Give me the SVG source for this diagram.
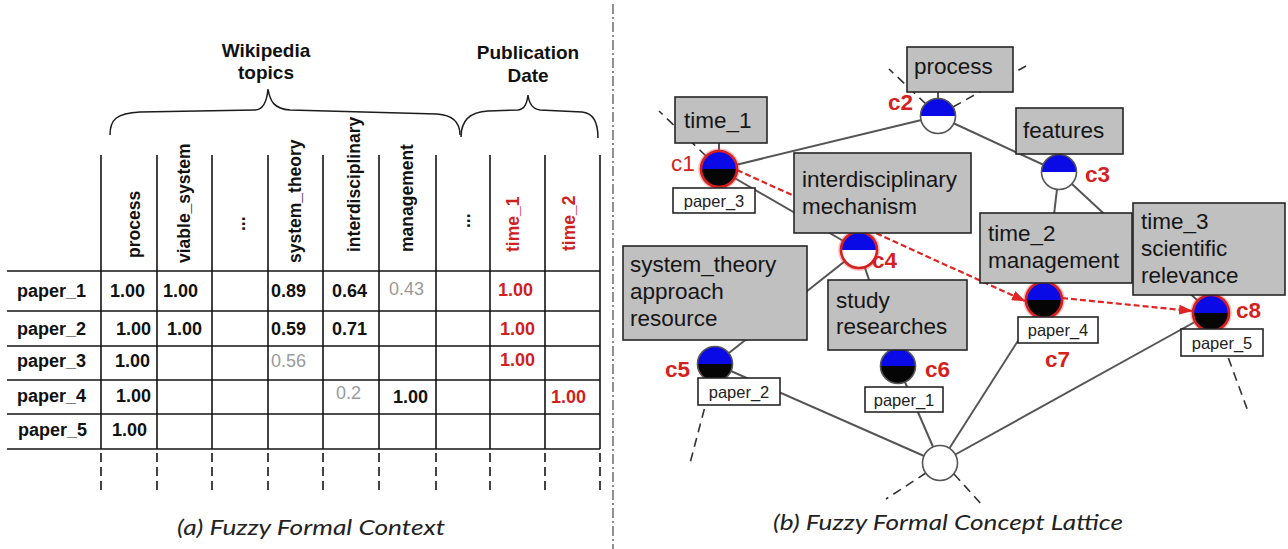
<svg xmlns="http://www.w3.org/2000/svg" xmlns:xlink="http://www.w3.org/1999/xlink" width="1288" height="549" viewBox="0 0 1288 549">
  <style>
    .grid { stroke: #141414; stroke-width: 1.6; fill: none; }
    .gridx { stroke: #141414; stroke-width: 1.6; fill: none; stroke-dasharray: 9 5; }
    .brace { stroke: #1c1c1c; stroke-width: 1.5; fill: none; }
    .hd { font-family: "Liberation Sans", Arial, sans-serif; font-weight: bold; font-size: 19px; fill: #111; text-anchor: middle; }
    .col { font-family: "Liberation Sans", Arial, sans-serif; font-weight: bold; font-size: 17.5px; fill: #111; }
    .cell { font-family: "Liberation Sans", Arial, sans-serif; font-weight: bold; font-size: 18px; fill: #111; }
    .low { font-weight: normal; fill: #9a9a9a; }
    .red { fill: #cf1f1f; }
    .cap { font-family: Lato, "Open Sans", sans-serif; font-style: italic; font-size: 22px; fill: #222; }
    .edge { stroke: #555; stroke-width: 2; fill: none; }
    .more { stroke: #333; stroke-width: 1.6; fill: none; stroke-dasharray: 9 6; }
    .order { stroke: #e02424; stroke-width: 2.2; fill: none; stroke-dasharray: 6 3; }
    .attr { fill: #c0c0c0; stroke: #262626; stroke-width: 1.6; }
    .attr-t { font-family: "Liberation Sans", Arial, sans-serif; font-size: 22.5px; fill: #161616; }
    .obj { fill: #fff; stroke: #262626; stroke-width: 1.6; }
    .obj-t { font-family: "Liberation Sans", Arial, sans-serif; font-size: 16.5px; fill: #222; text-anchor: middle; }
    .cid { font-family: "Liberation Sans", Arial, sans-serif; font-weight: bold; font-size: 22.5px; fill: #d61f1f; }
    .blue { fill: #0a0ae6; }
    .black { fill: #050505; }
    .white { fill: #ffffff; }
    .ring { fill: none; stroke: #555; stroke-width: 1.6; }
    .ring-red { fill: none; stroke: #d42020; stroke-width: 2.6; }
    .halo { fill: none; stroke: #e04040; stroke-width: 2.5; stroke-opacity: 0.35; }
  </style>
  <defs>
    <path id="top" d="M-17.5,0 A17.5,17.5 0 0 1 17.5,0 Z"/>
    <path id="bot" d="M-17.5,0 A17.5,17.5 0 0 0 17.5,0 Z"/>
    <marker id="arrow" viewBox="0 0 14 10" refX="13" refY="5" markerWidth="14" markerHeight="10" markerUnits="userSpaceOnUse" orient="auto">
      <path d="M0,0 L14,5 L0,10 Z" fill="#e02424"/>
    </marker>
  </defs>

  <rect width="1288" height="549" fill="#ffffff"/>

  <!-- (a) fuzzy formal context table -->
  <g id="context-table">
    <path class="brace" d="M110,135 C110,120 116,113 140,112 L255,110 C264,110 267,100 268,89 C270,101 274,109 290,110 L437,114 C452,115 460,122 460,135"/>
    <path class="brace" d="M461,137 C461,122 468,112 488,111 L518,110 C525,109 527,103 528,95 C529,103 532,109 540,110 L582,112 C594,113 598,124 598,138"/>
    <text class="hd" x="266" y="57">Wikipedia</text>
    <text class="hd" x="266" y="79">topics</text>
    <text class="hd" x="528" y="59">Publication</text>
    <text class="hd" x="528" y="82">Date</text>

    <!-- column rules -->
    <path class="grid" d="M101,155 V449 M157,155 V449 M212,155 V449 M268,155 V449 M323,155 V449 M379,155 V449 M436,155 V449 M490,155 V449 M545,155 V449 M600,155 V449"/>
    <!-- row rules -->
    <path class="grid" d="M7,271 H600 M7,311 H600 M7,346 H600 M7,380 H600 M7,414 H600 M7,449 H600"/>
    <!-- open-ended columns -->
    <path class="gridx" d="M101,453 V490 M157,453 V490 M212,453 V490 M268,453 V490 M323,453 V490 M379,453 V490 M436,453 V490 M490,453 V490 M545,453 V490 M600,453 V490"/>

    <!-- attribute headers -->
    <text class="col" transform="translate(140,258) rotate(-90)">process</text>
    <text class="col" transform="translate(190,263) rotate(-90)">viable_system</text>
    <text class="col" transform="translate(245,231) rotate(-90)">...</text>
    <text class="col" transform="translate(301,263) rotate(-90)">system_theory</text>
    <text class="col" transform="translate(360,252) rotate(-90)">interdisciplinary</text>
    <text class="col" transform="translate(413,252) rotate(-90)">management</text>
    <text class="col" transform="translate(470,228) rotate(-90)">...</text>
    <text class="col red" transform="translate(519,252) rotate(-90)">time_1</text>
    <text class="col red" transform="translate(575,251) rotate(-90)">time_2</text>

    <!-- objects -->
    <text class="cell" x="17" y="297">paper_1</text>
    <text class="cell" x="17" y="335">paper_2</text>
    <text class="cell" x="17" y="367">paper_3</text>
    <text class="cell" x="17" y="402">paper_4</text>
    <text class="cell" x="18" y="436">paper_5</text>

    <!-- membership degrees -->
    <text class="cell" x="110" y="297">1.00</text>
    <text class="cell" x="163" y="297">1.00</text>
    <text class="cell" x="271" y="297">0.89</text>
    <text class="cell" x="332" y="297">0.64</text>
    <text class="cell low" x="389" y="295">0.43</text>
    <text class="cell red" x="498" y="296">1.00</text>

    <text class="cell" x="116" y="335">1.00</text>
    <text class="cell" x="167" y="335">1.00</text>
    <text class="cell" x="271" y="335">0.59</text>
    <text class="cell" x="332" y="335">0.71</text>
    <text class="cell red" x="500" y="335">1.00</text>

    <text class="cell" x="115" y="367">1.00</text>
    <text class="cell low" x="271" y="367">0.56</text>
    <text class="cell red" x="500" y="366">1.00</text>

    <text class="cell" x="116" y="402">1.00</text>
    <text class="cell low" x="336" y="399">0.2</text>
    <text class="cell" x="393" y="403">1.00</text>
    <text class="cell red" x="551" y="403">1.00</text>

    <text class="cell" x="112" y="436">1.00</text>

    <text class="cap" x="177" y="535" textLength="268" lengthAdjust="spacingAndGlyphs">(a) Fuzzy Formal Context</text>
  </g>

  <!-- separator between the two panels -->
  <line x1="613" y1="4" x2="613" y2="549" stroke="#555" stroke-width="1.3" stroke-dasharray="10 3 2 3"/>

  <!-- (b) lattice: edges -->
  <g id="connectors">
    <line class="edge" x1="719" y1="169" x2="938" y2="116"/>
    <line class="edge" x1="719" y1="169" x2="859" y2="250"/>
    <line class="edge" x1="938" y1="116" x2="1059" y2="172"/>
    <line class="edge" x1="1059" y1="172" x2="1044" y2="300"/>
    <line class="edge" x1="1059" y1="172" x2="1211" y2="313"/>
    <line class="edge" x1="859" y1="250" x2="715" y2="364"/>
    <line class="edge" x1="859" y1="250" x2="898" y2="366"/>
    <line class="edge" x1="715" y1="364" x2="940" y2="463"/>
    <line class="edge" x1="898" y1="366" x2="940" y2="463"/>
    <line class="edge" x1="1044" y1="300" x2="940" y2="463"/>
    <line class="edge" x1="1211" y1="313" x2="940" y2="463"/>
    <line class="edge" x1="719" y1="143" x2="719" y2="152"/>
    <line class="edge" x1="938" y1="92" x2="938" y2="99"/>

    <!-- lattice continues beyond the excerpt -->
    <line class="more" x1="706" y1="156" x2="659" y2="111"/>
    <line class="more" x1="926" y1="104" x2="889" y2="69"/>
    <line class="more" x1="953" y1="107" x2="1026" y2="66"/>
    <line class="more" x1="712" y1="380" x2="689" y2="467"/>
    <line class="more" x1="1218" y1="330" x2="1249" y2="414"/>
    <line class="more" x1="926" y1="473" x2="886" y2="499"/>
    <line class="more" x1="954" y1="474" x2="983" y2="506"/>

    <!-- temporal order -->
    <line class="order" x1="737" y1="170" x2="1025" y2="301" marker-end="url(#arrow)"/>
    <line class="order" x1="1062" y1="298" x2="1192" y2="311" marker-end="url(#arrow)"/>
  </g>

  <!-- concepts -->
  <g id="c1">
    <g transform="translate(719,169)">
      <use xlink:href="#bot" class="black"/><use xlink:href="#top" class="blue"/>
      <circle r="19.5" class="halo"/><circle r="18" class="ring-red"/>
    </g>
    <rect class="attr" x="675" y="97" width="92" height="46"/>
    <text class="attr-t" x="684" y="128">time_1</text>
    <rect class="obj" x="673" y="188" width="82" height="25"/>
    <text class="obj-t" x="714" y="207">paper_3</text>
    <text class="cid" x="671" y="171" style="font-weight:normal">c1</text>
  </g>

  <g id="c2">
    <g transform="translate(938,116)">
      <circle r="17.5" class="white"/><use xlink:href="#top" class="blue"/>
      <circle r="17.5" class="ring"/>
    </g>
    <rect class="attr" x="907" y="47" width="106" height="45"/>
    <text class="attr-t" x="914" y="74">process</text>
    <text class="cid" x="888" y="110">c2</text>
  </g>

  <g id="c3">
    <g transform="translate(1059,172)">
      <circle r="17.5" class="white"/><use xlink:href="#top" class="blue"/>
      <circle r="17.5" class="ring"/>
    </g>
    <rect class="attr" x="1016" y="108" width="107" height="46"/>
    <text class="attr-t" x="1023" y="138">features</text>
    <text class="cid" x="1085" y="182">c3</text>
  </g>

  <g id="c4">
    <g transform="translate(859,250)">
      <circle r="17.5" class="white"/><use xlink:href="#top" class="blue"/>
      <circle r="19.5" class="halo"/><circle r="18" class="ring-red"/>
    </g>
    <rect class="attr" x="794" y="153" width="177" height="80"/>
    <text class="attr-t" x="802" y="187">interdisciplinary</text>
    <text class="attr-t" x="802" y="214">mechanism</text>
    <text class="cid" x="872" y="268">c4</text>
  </g>

  <g id="c5">
    <g transform="translate(715,364)">
      <use xlink:href="#bot" class="black"/><use xlink:href="#top" class="blue"/>
      <circle r="17.5" class="ring"/>
    </g>
    <rect class="attr" x="623" y="246" width="184" height="94"/>
    <text class="attr-t" x="630" y="272">system_theory</text>
    <text class="attr-t" x="630" y="299">approach</text>
    <text class="attr-t" x="630" y="326">resource</text>
    <rect class="obj" x="698" y="378" width="82" height="27"/>
    <text class="obj-t" x="739" y="398">paper_2</text>
    <text class="cid" x="665" y="377">c5</text>
  </g>

  <g id="c6">
    <g transform="translate(898,366)">
      <use xlink:href="#bot" class="black"/><use xlink:href="#top" class="blue"/>
      <circle r="17.5" class="ring"/>
    </g>
    <rect class="attr" x="828" y="280" width="139" height="70"/>
    <text class="attr-t" x="836" y="308">study</text>
    <text class="attr-t" x="836" y="334">researches</text>
    <rect class="obj" x="865" y="387" width="78" height="25"/>
    <text class="obj-t" x="904" y="406">paper_1</text>
    <text class="cid" x="925" y="377">c6</text>
  </g>

  <g id="c7">
    <g transform="translate(1044,300)">
      <use xlink:href="#bot" class="black"/><use xlink:href="#top" class="blue"/>
      <circle r="19.5" class="halo"/><circle r="18" class="ring-red"/>
    </g>
    <rect class="attr" x="980" y="213" width="152" height="70"/>
    <text class="attr-t" x="988" y="241">time_2</text>
    <text class="attr-t" x="988" y="268">management</text>
    <rect class="obj" x="1018" y="317" width="80" height="26"/>
    <text class="obj-t" x="1058" y="336">paper_4</text>
    <text class="cid" x="1045" y="367">c7</text>
  </g>

  <g id="c8">
    <g transform="translate(1211,313)">
      <use xlink:href="#bot" class="black"/><use xlink:href="#top" class="blue"/>
      <circle r="19.5" class="halo"/><circle r="18" class="ring-red"/>
    </g>
    <rect class="attr" x="1133" y="203" width="152" height="92"/>
    <text class="attr-t" x="1141" y="229">time_3</text>
    <text class="attr-t" x="1141" y="256">scientific</text>
    <text class="attr-t" x="1141" y="283">relevance</text>
    <rect class="obj" x="1181" y="329" width="82" height="27"/>
    <text class="obj-t" x="1222" y="349">paper_5</text>
    <text class="cid" x="1236" y="318">c8</text>
  </g>

  <g id="bottom">
    <circle cx="940" cy="463" r="17.5" class="white"/>
    <circle cx="940" cy="463" r="17.5" class="ring"/>
  </g>

  <text class="cap" x="773" y="530" textLength="350" lengthAdjust="spacingAndGlyphs">(b) Fuzzy Formal Concept Lattice</text>
</svg>
